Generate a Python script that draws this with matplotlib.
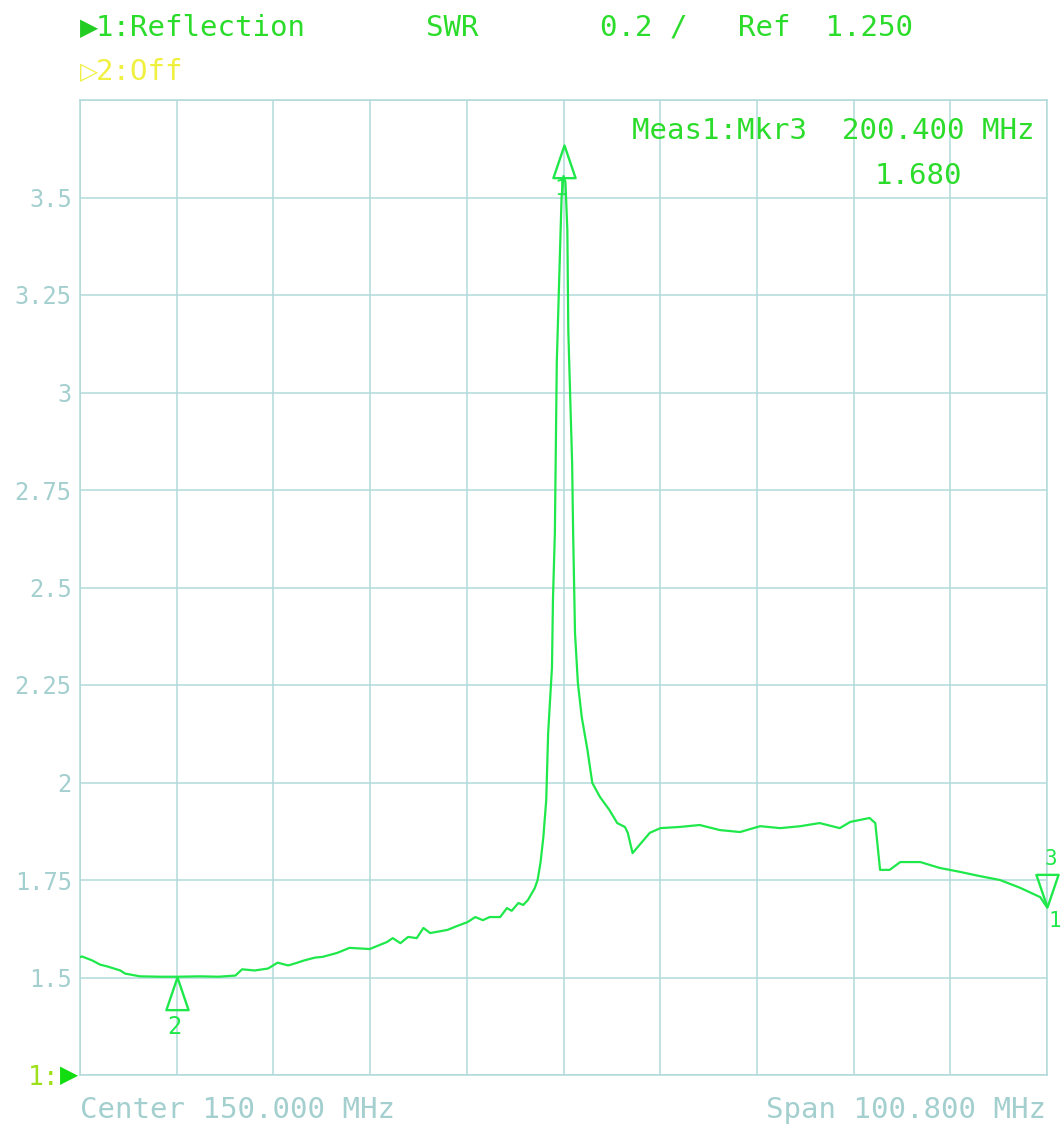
"""
SWR reflection sweep, redrawn from a network analyzer screen capture.
Center 150 MHz, span 100.8 MHz, 0.25 SWR per division, ref 1.25.
"""

import matplotlib
matplotlib.use("Agg")
import matplotlib.pyplot as plt
from matplotlib.path import Path

# --- trace (MHz, SWR) ---
freq_mhz = [
    99.6, 99.8, 100.85, 101.7, 102.5, 103.8, 104.3, 105.85, 107.9, 109.8,
    112.1, 114.0, 115.8, 116.5, 117.8, 119.2, 120.2, 121.3, 122.0, 123.0,
    124.1, 124.9, 126.4, 127.7, 129.8, 131.6, 132.2, 133.0, 133.8, 134.7,
    135.4, 136.1, 137.9, 138.9, 140.0, 140.8, 141.6, 142.3, 143.4, 144.1,
    144.6, 145.3, 145.8, 146.3, 147.0, 147.3, 147.6, 147.9, 148.2, 148.4,
    148.8, 148.9, 149.1, 149.3, 149.6, 149.8, 150.0, 150.2, 150.4, 150.5,
    150.7, 150.9, 151.0, 151.2, 151.5, 151.9, 152.5, 153.0, 153.8, 154.8,
    155.6, 156.4, 156.7, 157.2, 159.0, 160.1, 162.1, 164.2, 166.3, 168.4,
    170.5, 172.6, 174.7, 176.7, 178.8, 179.9, 181.9, 182.5, 183.0, 184.0,
    185.1, 187.2, 189.2, 191.3, 193.4, 195.5, 197.6, 199.7, 200.4,
]
swr = [
    1.552, 1.554, 1.544, 1.533, 1.528, 1.518, 1.510, 1.503, 1.502, 1.502,
    1.503, 1.502, 1.505, 1.521, 1.518, 1.523, 1.538, 1.531, 1.536, 1.544,
    1.551, 1.553, 1.563, 1.576, 1.573, 1.591, 1.601, 1.588, 1.604, 1.601,
    1.627, 1.614, 1.622, 1.632, 1.642, 1.655, 1.647, 1.655, 1.655, 1.678,
    1.671, 1.691, 1.686, 1.699, 1.729, 1.750, 1.794, 1.860, 1.955, 2.127,
    2.296, 2.468, 2.640, 3.076, 3.332, 3.501, 3.555, 3.540, 3.417, 3.160,
    2.988, 2.819, 2.647, 2.383, 2.255, 2.168, 2.083, 1.999, 1.963, 1.929,
    1.896, 1.886, 1.871, 1.819, 1.871, 1.883, 1.886, 1.891, 1.878, 1.873,
    1.888, 1.883, 1.888, 1.896, 1.883, 1.899, 1.909, 1.896, 1.776, 1.776,
    1.796, 1.796, 1.781, 1.771, 1.760, 1.750, 1.730, 1.706, 1.680,
]

# --- markers: number, freq, swr, pointing up? ---
marker_ids = ["1", "2", "3"]
marker_freq = [150.0, 109.7, 200.4]
marker_swr = [3.635, 1.502, 1.680]
marker_up = [True, True, False]

# --- screen settings ---
center_mhz = 150.0
span_mhz = 100.8
ref_swr = 1.25
per_div = 0.25
n_div = 10
y_labels = ["1.5", "1.75", "2", "2.25", "2.5", "2.75", "3", "3.25", "3.5"]

TRACE = "#1ee84a"
TEXT_GREEN = "#2bdc2b"
YELLOW = "#f0f040"
GRID = "#b2dada"
FAINT = "#a4cfcf"
MONO = "DejaVu Sans Mono"


def tri_marker(up=True):
    # tip at the data point, body hanging below (or above for a down marker)
    s = 1 if up else -1
    verts = [(0, 0), (-0.34, -s), (0.34, -s), (0, 0)]
    return Path(verts, [Path.MOVETO, Path.LINETO, Path.LINETO, Path.CLOSEPOLY])


def main():
    fig = plt.figure(figsize=(10.64, 11.4), dpi=100)
    ax = fig.add_axes([80 / 1064, 1 - 1075 / 1140, 967 / 1064, 975 / 1140])

    f0 = center_mhz - span_mhz / 2
    ax.set_xlim(f0, f0 + span_mhz)
    ax.set_ylim(ref_swr, ref_swr + n_div * per_div)

    ax.set_xticks([f0 + k * span_mhz / n_div for k in range(n_div + 1)])
    ax.set_xticklabels([])
    yt = [ref_swr + k * per_div for k in range(n_div + 1)]
    ax.set_yticks(yt)
    ax.set_yticklabels([""] + y_labels + [""], family=MONO,
                       fontsize=17, color=FAINT)
    ax.tick_params(length=0, pad=6)
    ax.grid(True, color=GRID, linewidth=1.1)
    for sp in ax.spines.values():
        sp.set_color(GRID)
        sp.set_linewidth(1.1)

    ax.plot(freq_mhz, swr, color=TRACE, linewidth=1.6, zorder=3)

    # marker triangles and their numbers
    for mid, mf, ms, up in zip(marker_ids, marker_freq, marker_swr, marker_up):
        ax.plot([mf], [ms], marker=tri_marker(up), markersize=47,
                markerfacecolor="none", markeredgecolor=TRACE,
                markeredgewidth=1.7, clip_on=False, zorder=4)
    ax.annotate("1", (marker_freq[0], marker_swr[0]), xytext=(-2, -44),
                textcoords="offset pixels", ha="center", va="center",
                family=MONO, fontsize=16, color=TRACE)
    ax.annotate("2", (marker_freq[1], marker_swr[1]), xytext=(-3, -50),
                textcoords="offset pixels", ha="center", va="center",
                family=MONO, fontsize=17, color=TRACE)
    ax.annotate("3", (marker_freq[2], marker_swr[2]), xytext=(4, 48),
                textcoords="offset pixels", ha="center", va="center",
                family=MONO, fontsize=15, color=TRACE)
    ax.annotate("1", (marker_freq[2], marker_swr[2]), xytext=(8, -14),
                textcoords="offset pixels", ha="center", va="center",
                family=MONO, fontsize=15, color=TRACE)

    # header lines
    fig.text(80 / 1064, 1 - 28 / 1140, "\u25B6", color="#22cc22",
             family="DejaVu Sans", fontsize=17, va="center", ha="left")
    fig.text(96 / 1064, 1 - 28 / 1140, "1:Reflection", color=TEXT_GREEN,
             family=MONO, fontsize=21, va="center")
    fig.text(426 / 1064, 1 - 28 / 1140, "SWR", color=TEXT_GREEN,
             family=MONO, fontsize=21, va="center")
    fig.text(600 / 1064, 1 - 28 / 1140, "0.2 /", color=TEXT_GREEN,
             family=MONO, fontsize=21, va="center")
    fig.text(738 / 1064, 1 - 28 / 1140, "Ref  1.250", color=TEXT_GREEN,
             family=MONO, fontsize=21, va="center")
    fig.text(80 / 1064, 1 - 72 / 1140, "\u25B7", color=YELLOW,
             family="DejaVu Sans", fontsize=17, va="center", ha="left")
    fig.text(96 / 1064, 1 - 72 / 1140, "2:Off", color=YELLOW,
             family=MONO, fontsize=21, va="center")

    # marker readout
    fig.text(1034 / 1064, 1 - 131 / 1140, "Meas1:Mkr3  200.400 MHz",
             color=TEXT_GREEN, family=MONO, fontsize=21, va="center",
             ha="right")
    fig.text(962 / 1064, 1 - 176 / 1140, "1.680", color=TEXT_GREEN,
             family=MONO, fontsize=21, va="center", ha="right")

    # reference position and footer
    fig.text(28 / 1064, 1 - 1078 / 1140, "1:", color="#9ee01a",
             family=MONO, fontsize=19, va="center")
    fig.text(60 / 1064, 1 - 1075 / 1140, "\u25B6", color="#11dd11",
             family="DejaVu Sans", fontsize=17, va="center")
    fig.text(80 / 1064, 1 - 1110 / 1140, "Center 150.000 MHz", color=FAINT,
             family=MONO, fontsize=21, va="center")
    fig.text(1046 / 1064, 1 - 1110 / 1140, "Span 100.800 MHz", color=FAINT,
             family=MONO, fontsize=21, va="center", ha="right")

    fig.savefig("out.png", dpi=100, facecolor="white")
    plt.close(fig)


if __name__ == "__main__":
    main()
